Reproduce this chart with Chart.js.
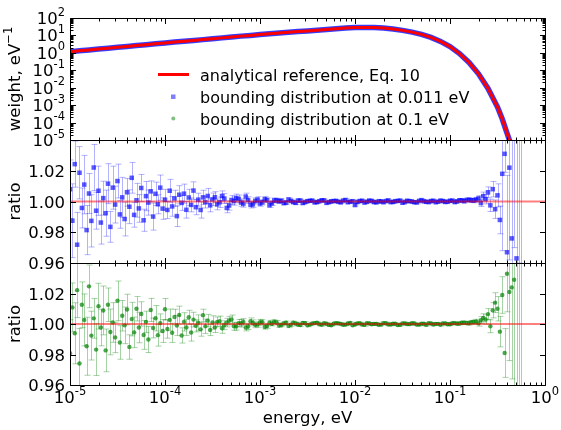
<!DOCTYPE html>
<html>
<head>
<meta charset="utf-8">
<script src="https://cdn.jsdelivr.net/npm/chart.js@4.4.0/dist/chart.umd.min.js"></script>
<style>
  html, body { margin: 0; padding: 0; background: #fff; }
  #wrap { position: relative; width: 561px; height: 430px; }
  #wrap canvas { position: absolute; left: 0; top: 0; }
</style>
</head>
<body>
<div id="wrap">
  <canvas id="weightChart" width="561" height="430"></canvas>
  <canvas id="blueChart" width="561" height="430"></canvas>
  <canvas id="greenChart" width="561" height="430"></canvas>
</div>
<script>
'use strict';
/* ------------------------------------------------------------------------------------------------DATA */
const refLogEnergy = [-5.0, -4.9, -4.8, -4.7, -4.6, -4.5, -4.4, -4.3, -4.2, -4.1,
  -4.0, -3.9, -3.8, -3.7, -3.6, -3.5, -3.4, -3.3, -3.2, -3.1,
  -3.0, -2.9, -2.8, -2.7, -2.6, -2.5, -2.4, -2.3, -2.2, -2.1,
  -2.0, -1.9, -1.8, -1.7, -1.6, -1.5, -1.4, -1.3, -1.2, -1.1,
  -1.0, -0.9, -0.8, -0.7, -0.6, -0.5, -0.45, -0.4, -0.35];
//log10 of energy (eV) for the analytical reference curve

const refWeight = [1.17, 1.32, 1.48, 1.66, 1.86, 2.09, 2.34, 2.63, 2.95, 3.31,
  3.72, 4.17, 4.68, 5.13, 5.75, 6.46, 7.24, 8.13, 9.12, 10.0,
  11.2, 12.6, 13.8, 15.1, 16.6, 18.2, 20.0, 21.9, 24.5, 26.3,
  28.2, 28.8, 28.2, 26.3, 23.4, 19.5, 15.5, 11.5, 7.76, 4.57,
  2.29, 0.912, 0.282, 0.0631, 0.00912, 7.8e-4, 1.6e-4, 2.5e-5, 4.0e-6];
//weight, eV^-1

const ratioLogEnergy = [-5.000, -4.975, -4.950, -4.925, -4.900, -4.875, -4.850, -4.825, -4.800, -4.775,
  -4.750, -4.725, -4.700, -4.675, -4.650, -4.625, -4.600, -4.575, -4.550, -4.525,
  -4.500, -4.475, -4.450, -4.425, -4.400, -4.375, -4.350, -4.325, -4.300, -4.275,
  -4.250, -4.225, -4.200, -4.175, -4.150, -4.125, -4.100, -4.075, -4.050, -4.025,
  -4.000, -3.975, -3.950, -3.925, -3.900, -3.875, -3.850, -3.825, -3.800, -3.775,
  -3.750, -3.725, -3.700, -3.675, -3.650, -3.625, -3.600, -3.575, -3.550, -3.525,
  -3.500,
  -3.475, -3.450, -3.425, -3.400, -3.375, -3.350, -3.325, -3.300, -3.275, -3.250,
  -3.225, -3.200, -3.175, -3.150, -3.125, -3.100, -3.075, -3.050, -3.025, -3.000,
  -2.975, -2.950, -2.925, -2.900, -2.875, -2.850, -2.825, -2.800, -2.775, -2.750,
  -2.725, -2.700, -2.675, -2.650, -2.625, -2.600, -2.575, -2.550, -2.525, -2.500,
  -2.475, -2.450, -2.425, -2.400, -2.375, -2.350, -2.325, -2.300, -2.275, -2.250,
  -2.225, -2.200, -2.175, -2.150, -2.125, -2.100, -2.075, -2.050, -2.025, -2.000,
  -1.975, -1.950, -1.925, -1.900, -1.875, -1.850, -1.825, -1.800, -1.775, -1.750,
  -1.725, -1.700, -1.675, -1.650, -1.625, -1.600, -1.575, -1.550, -1.525, -1.500,
  -1.475, -1.450, -1.425, -1.400, -1.375, -1.350, -1.325, -1.300, -1.275, -1.250,
  -1.225, -1.200, -1.175, -1.150, -1.125, -1.100, -1.075, -1.050, -1.025, -1.000,
  -0.975, -0.950, -0.925, -0.900, -0.875, -0.850, -0.825, -0.800, -0.775, -0.750,
  -0.725, -0.700, -0.675, -0.650, -0.625, -0.600, -0.575, -0.550, -0.525, -0.500,
  -0.475, -0.450, -0.425, -0.400, -0.375, -0.350, -0.325, -0.300, -0.275, -0.250];
//log10 of energy (eV) for the ratio points, shared by both bounding distributions

const blueRatio = [1.0080, 0.9875, 1.0243, 0.9719, 1.0187, 0.9958, 1.0110, 0.9814, 1.0052, 0.9874,
  1.0221, 0.9940, 1.0070, 0.9863, 1.0022, 0.9924, 1.0116, 0.9835, 1.0090, 0.9980,
  1.0133, 0.9916, 1.0027, 0.9886, 1.0060, 0.9966, 1.0154, 0.9913, 1.0008, 0.9955,
  1.0088, 0.9878, 1.0035, 0.9993, 1.0066, 0.9902, 1.0050, 0.9982, 1.0090, 0.9954,
  1.0011, 0.9945, 1.0070, 0.9968, 1.0020, 0.9905, 1.0044, 0.9991, 1.0051, 0.9946,
  1.0026, 0.9978, 1.0071, 0.9963, 1.0012, 0.9945, 1.0027, 0.9996, 1.0036, 0.9975,
  1.0014,
  1.0028, 0.9981, 0.9995, 1.0036, 1.0019, 0.9958, 0.9974, 1.0010, 1.0003, 1.0022,
  1.0017, 0.9993, 0.9986, 1.0032, 1.0009, 0.9979, 0.9982, 1.0004, 1.0012, 0.9987,
  0.9995, 1.0015, 1.0009, 0.9976, 0.9989, 1.0007, 1.0008, 1.0001, 1.0005, 0.9990,
  0.9993, 1.0013, 1.0004, 0.9996, 0.9991, 1.0006, 1.0006, 0.9990, 0.9997, 1.0002,
  1.0005, 1.0006, 0.9994, 0.9996, 1.0002, 1.0008, 1.0007, 0.9991, 0.9996, 1.0001,
  1.0003, 1.0004, 0.9998, 0.9994, 1.0006, 1.0010, 0.9995, 0.9999, 1.0002, 0.9977,
  0.9997, 1.0003, 1.0005, 0.9993, 0.9998, 1.0006, 1.0004, 0.9996, 0.9994, 1.0002,
  1.0001, 0.9995, 1.0003, 1.0007, 0.9996, 0.9997, 1.0002, 1.0004, 1.0006, 0.9992,
  0.9997, 1.0005, 1.0002, 1.0000, 0.9995, 0.9994, 1.0004, 1.0009, 1.0001, 0.9998,
  0.9996, 1.0003, 1.0005, 0.9995, 0.9999, 1.0006, 1.0003, 0.9997, 0.9998, 1.0005,
  1.0006, 0.9996, 1.0001, 1.0008, 1.0007, 1.0002, 1.0010, 1.0011, 1.0008, 1.0006,
  1.0012, 1.0020, 0.9990, 1.0035, 1.0015, 1.0060, 0.9975, 1.0080, 0.9950, 1.0040,
  0.9880, 1.0180, 1.0310, 0.9670, 1.0220, 0.9760, 1.0600, 0.9630, 1.0800, 0.9300];
//ratio to the reference, bounding distribution at 0.011 eV

const blueError = [0.019, 0.024, 0.015, 0.021, 0.017, 0.013, 0.019, 0.016, 0.013, 0.017,
  0.015, 0.012, 0.016, 0.014, 0.011, 0.015, 0.013, 0.010, 0.014, 0.012,
  0.011, 0.009, 0.013, 0.011, 0.009, 0.011, 0.010, 0.008, 0.011, 0.009,
  0.0088, 0.0072, 0.0095, 0.0082, 0.0068, 0.0088, 0.0076, 0.0062, 0.0082, 0.0070,
  0.0068, 0.0056, 0.0074, 0.0064, 0.0053, 0.0068, 0.0059, 0.0049, 0.0062, 0.0054,
  0.0053, 0.0045, 0.0057, 0.0049, 0.0042, 0.0053, 0.0046, 0.0038, 0.0049, 0.0042,
  0.0041,
  0.0036, 0.0035, 0.0034, 0.0033, 0.0032, 0.0031, 0.0030, 0.0029, 0.0027, 0.0026,
  0.0025, 0.0024, 0.0023, 0.0022, 0.0022, 0.0021, 0.0020, 0.0020, 0.0019, 0.0018,
  0.0017, 0.0018, 0.0015, 0.0014, 0.0015, 0.0016, 0.0013, 0.0013, 0.0012, 0.0012,
  0.0011, 0.0011, 0.00105, 0.00105, 0.0010, 0.0010, 0.00095, 0.00095, 0.0009, 0.0009,
  0.0008, 0.0007, 0.0008, 0.0009, 0.0007, 0.0008, 0.0008, 0.0007, 0.0008, 0.0009,
  0.0007, 0.0008, 0.0008, 0.0007, 0.0008, 0.0009, 0.0007, 0.0008, 0.0008, 0.0007,
  0.0008, 0.0009, 0.0007, 0.0008, 0.0008, 0.0007, 0.0008, 0.0009, 0.0007, 0.0008,
  0.0008, 0.0007, 0.0008, 0.0009, 0.0007, 0.0008, 0.0008, 0.0007, 0.0008, 0.0009,
  0.0007, 0.0008, 0.0008, 0.0007, 0.0008, 0.0009, 0.0007, 0.0008, 0.0008, 0.0007,
  0.0008, 0.0009, 0.0007, 0.0008, 0.0008, 0.0007, 0.0008, 0.0009, 0.0007, 0.0008,
  0.0008, 0.0009, 0.0009, 0.0010, 0.0010, 0.0011, 0.0011, 0.0012, 0.0013, 0.0014,
  0.0015, 0.0018, 0.0022, 0.0026, 0.0030, 0.0035, 0.0040, 0.0050, 0.0060, 0.0075,
  0.0090, 0.0500, 0.0120, 0.0500, 0.0600, 0.0700, 0.0900, 0.1000, 0.1200, 0.1500];
//half length of the blue error bars

const greenRatio = [0.9808, 1.0109, 0.9939, 1.0222, 0.9741, 1.0126, 1.0027, 0.9854, 1.0247, 0.9924,
  1.0037, 0.9832, 1.0117, 0.9977, 1.0089, 0.9827, 1.0126, 0.9948, 1.0010, 0.9912,
  1.0152, 0.9879, 1.0054, 0.9991, 1.0095, 0.9849, 1.0032, 0.9945, 1.0100, 0.9977,
  1.0066, 0.9928, 1.0014, 0.9898, 1.0092, 0.9974, 1.0038, 0.9927, 1.0006, 0.9954,
  1.0097, 0.9967, 1.0027, 0.9942, 1.0046, 0.9990, 1.0059, 0.9925, 1.0014, 0.9977,
  1.0044, 0.9944, 1.0029, 0.9988, 1.0008, 0.9965, 1.0057, 0.9985, 1.0022, 0.9961,
  1.0010,
  0.9978, 1.0014, 1.0019, 0.9972, 0.9992, 1.0009, 1.0022, 1.0030, 0.9985, 0.9984,
  1.0006, 1.0005, 1.0013, 0.9976, 0.9984, 1.0018, 1.0008, 0.9994, 0.9996, 1.0011,
  1.0012, 0.9981, 0.9987, 1.0008, 1.0002, 1.0015, 1.0010, 0.9991, 0.9994, 1.0004,
  1.0008, 0.9988, 0.9995, 1.0009, 1.0003, 0.9997, 0.9993, 1.0007, 1.0005, 0.9992,
  0.9996, 1.0003, 1.0006, 1.0009, 0.9998, 0.9995, 1.0005, 1.0002, 0.9994, 0.9992,
  1.0002, 1.0006, 1.0004, 1.0001, 0.9995, 0.9996, 1.0003, 1.0007, 0.9991, 0.9998,
  1.0004, 1.0005, 0.9997, 0.9994, 1.0006, 1.0003, 0.9998, 1.0001, 1.0001, 0.9995,
  0.9996, 1.0006, 1.0005, 0.9997, 0.9997, 1.0002, 1.0002, 0.9993, 0.9995, 1.0004,
  1.0004, 0.9999, 0.9999, 1.0005, 1.0003, 0.9996, 0.9996, 1.0002, 1.0002, 0.9994,
  1.0005, 1.0003, 0.9997, 1.0001, 1.0001, 0.9995, 1.0004, 1.0004, 0.9998, 0.9998,
  1.0005, 1.0006, 1.0002, 1.0003, 1.0008, 1.0009, 1.0006, 1.0005, 1.0011, 1.0013,
  1.0015, 1.0005, 1.0025, 1.0040, 1.0030, 1.0065, 0.9985, 1.0090, 1.0140, 1.0100,
  0.9950, 1.0190, 0.9810, 1.0330, 1.0210, 1.0240, 1.0290, 1.0500, 0.9450, 1.0700];
//ratio to the reference, bounding distribution at 0.1 eV

const greenError = [0.022, 0.016, 0.020, 0.018, 0.023, 0.015, 0.017, 0.019, 0.014, 0.016,
  0.013, 0.017, 0.015, 0.012, 0.016, 0.014, 0.011, 0.015, 0.013, 0.010,
  0.013, 0.011, 0.010, 0.012, 0.010, 0.008, 0.011, 0.010, 0.008, 0.010,
  0.0080, 0.0094, 0.0070, 0.0085, 0.0076, 0.0065, 0.0083, 0.0072, 0.0060, 0.0075,
  0.0070, 0.0060, 0.0071, 0.0063, 0.0051, 0.0066, 0.0058, 0.0050, 0.0060, 0.0052,
  0.0046, 0.0056, 0.0048, 0.0040, 0.0052, 0.0045, 0.0040, 0.0047, 0.0041, 0.0037,
  0.0044,
  0.0034, 0.0032, 0.0033, 0.0033, 0.0029, 0.0028, 0.0028, 0.0029, 0.0026, 0.0024,
  0.0023, 0.0025, 0.0022, 0.0021, 0.0020, 0.0022, 0.0019, 0.0018, 0.0017, 0.0019,
  0.0016, 0.0015, 0.0015, 0.0016, 0.0014, 0.0013, 0.0013, 0.0014, 0.0012, 0.0011,
  0.0011, 0.0012, 0.0010, 0.0010, 0.0010, 0.0011, 0.0009, 0.0009, 0.0009, 0.0010,
  0.0007, 0.0008, 0.0008, 0.0007, 0.0009, 0.0008, 0.0007, 0.0008, 0.0008, 0.0007,
  0.0009, 0.0008, 0.0007, 0.0008, 0.0008, 0.0007, 0.0009, 0.0008, 0.0007, 0.0008,
  0.0008, 0.0007, 0.0009, 0.0008, 0.0007, 0.0008, 0.0008, 0.0007, 0.0009, 0.0008,
  0.0007, 0.0008, 0.0008, 0.0007, 0.0009, 0.0008, 0.0007, 0.0008, 0.0008, 0.0007,
  0.0009, 0.0008, 0.0007, 0.0008, 0.0008, 0.0007, 0.0009, 0.0008, 0.0007, 0.0008,
  0.0008, 0.0007, 0.0009, 0.0008, 0.0007, 0.0008, 0.0008, 0.0007, 0.0009, 0.0008,
  0.0008, 0.0008, 0.0009, 0.0009, 0.0010, 0.0010, 0.0011, 0.0012, 0.0012, 0.0013,
  0.0016, 0.0019, 0.0023, 0.0027, 0.0031, 0.0036, 0.0042, 0.0050, 0.0065, 0.0080,
  0.0100, 0.0120, 0.0160, 0.0250, 0.0450, 0.0600, 0.0800, 0.1000, 0.1200, 0.1400];
//half length of the green error bars

const unityEnergy = [1e-5, 1];
const unityRatio = [1.0, 1.0];
//the reference line in the two ratio panels

const energyTickExponents = [-5, -4, -3, -2, -1, 0];
const weightTickExponents = [-5, -4, -3, -2, -1, 0, 1, 2];
const ratioTicks = [0.96, 0.98, 1.00, 1.02, 1.04];
const ratioTickLabels = ['0.96', '0.98', '1.00', '1.02', ''];
const legendLabels = ['analytical reference, Eq. 10', 'bounding distribution at 0.011 eV', 'bounding distribution at 0.1 eV'];



/* ------------------------------------------------------------------------------------------------LAYOUT */
const CANVAS_W = 561;
const CANVAS_H = 430;
const PLOT_LEFT = 70;
const PLOT_RIGHT = 545;
const PANELS = [[18, 140], [140, 263], [263, 385]];
//top and bottom pixel of the three stacked panels

const FONT = '"DejaVu Sans", "Liberation Sans", sans-serif';
const TICK_FONT = '16.5px ' + FONT;
const SUP_FONT = '11.5px ' + FONT;
const LEGEND_FONT = '16px ' + FONT;
const MAJOR = 5.5;
const MINOR = 3;
const CAP = 3;



/* ------------------------------------------------------------------------------------------------DRAW HELPERS */
function drawPower(ctx, exp, x, baseY, align){
  ctx.font = TICK_FONT;
  const baseW = ctx.measureText('10').width;
  ctx.font = SUP_FONT;
  const sup = String(exp);
  const supW = ctx.measureText(sup).width;
  const left = align === 'right' ? x - baseW - supW : x - (baseW + supW) / 2;
  ctx.textAlign = 'left';
  ctx.textBaseline = 'alphabetic';
  ctx.font = TICK_FONT;
  ctx.fillText('10', left, baseY);
  ctx.font = SUP_FONT;
  ctx.fillText(sup, left + baseW, baseY - 8.5);
}
//draws 10 with a raised exponent

function drawErrorBars(chart){
  const ctx = chart.ctx;
  const area = chart.chartArea;
  const xs = chart.scales.x;
  const ys = chart.scales.y;
  ctx.save();
  ctx.beginPath();
  ctx.rect(area.left, area.top, area.right - area.left, area.bottom - area.top);
  ctx.clip();
  ctx.lineWidth = 1;
  for (let ds of chart.data.datasets){
    if (!ds.errorColor) continue;
    ctx.strokeStyle = ds.errorColor;
    for (let p of ds.data){
      const px = Math.round(xs.getPixelForValue(p.x)) + 0.5;
      const top = ys.getPixelForValue(p.y + p.err);
      const bot = ys.getPixelForValue(p.y - p.err);
      ctx.beginPath();
      ctx.moveTo(px, top);
      ctx.lineTo(px, bot);
      ctx.moveTo(px - CAP, top);
      ctx.lineTo(px + CAP, top);
      ctx.moveTo(px - CAP, bot);
      ctx.lineTo(px + CAP, bot);
      ctx.stroke();
    }
  }
  ctx.restore();
}
//vertical error bars with caps, clipped to the panel

function drawFrame(chart, cfg){
  const ctx = chart.ctx;
  const a = chart.chartArea;
  const xs = chart.scales.x;
  const ys = chart.scales.y;
  const L = a.left + 0.5, R = a.right + 0.5, T = a.top + 0.5, B = a.bottom + 0.5;
  ctx.save();
  ctx.strokeStyle = '#000';
  ctx.lineWidth = 1;
  ctx.beginPath();
  ctx.rect(L, T, R - L, B - T);

  for (let e of energyTickExponents){
    const marks = [[10 ** e, MAJOR]];
    if (e < 0) for (let m = 2; m < 10; m++) marks.push([m * 10 ** e, MINOR]);
    for (let [v, len] of marks){
      const px = Math.round(xs.getPixelForValue(v)) + 0.5;
      ctx.moveTo(px, T); ctx.lineTo(px, T + len);
      ctx.moveTo(px, B); ctx.lineTo(px, B - len);
    }
  }
  //x ticks on top and bottom edges, pointing inward

  const yMarks = [];
  if (cfg.kind === 'log'){
    for (let e of weightTickExponents){
      yMarks.push([10 ** e, MAJOR]);
      if (e < 2) for (let m = 2; m < 10; m++) yMarks.push([m * 10 ** e, MINOR]);
    }
  } else {
    for (let v of ratioTicks) yMarks.push([v, MAJOR]);
  }
  for (let [v, len] of yMarks){
    const py = Math.round(ys.getPixelForValue(v)) + 0.5;
    ctx.moveTo(L, py); ctx.lineTo(L + len, py);
    ctx.moveTo(R, py); ctx.lineTo(R - len, py);
  }
  ctx.stroke();
  //y ticks on left and right edges

  ctx.fillStyle = '#000';
  if (cfg.kind === 'log'){
    for (let e of weightTickExponents){
      drawPower(ctx, e, 65, ys.getPixelForValue(10 ** e) + 6, 'right');
    }
  } else {
    ctx.font = TICK_FONT;
    ctx.textAlign = 'right';
    ctx.textBaseline = 'alphabetic';
    ratioTicks.forEach((v, i) => ctx.fillText(ratioTickLabels[i], 65, ys.getPixelForValue(v) + 6));
  }
  //y tick labels

  if (cfg.xLabels){
    for (let e of energyTickExponents){
      drawPower(ctx, e, xs.getPixelForValue(10 ** e), 403, 'center');
    }
    ctx.font = TICK_FONT;
    ctx.textAlign = 'center';
    ctx.fillText('energy, eV', (a.left + a.right) / 2, 423);
  }
  //x tick labels and axis title on the bottom panel only

  const midY = (a.top + a.bottom) / 2;
  ctx.translate(20, midY);
  ctx.rotate(-Math.PI / 2);
  ctx.textAlign = 'left';
  ctx.font = TICK_FONT;
  if (cfg.kind === 'log'){
    const main = 'weight, eV';
    const w1 = ctx.measureText(main).width;
    ctx.font = SUP_FONT;
    const w2 = ctx.measureText('\u22121').width;
    ctx.font = TICK_FONT;
    ctx.fillText(main, -(w1 + w2) / 2, 0);
    ctx.font = SUP_FONT;
    ctx.fillText('\u22121', -(w1 + w2) / 2 + w1, -8.5);
  } else {
    ctx.textAlign = 'center';
    ctx.fillText('ratio', 0, 0);
  }
  ctx.restore();
  //rotated y axis title

  if (cfg.legend){
    ctx.save();
    ctx.strokeStyle = '#ff0000';
    ctx.lineWidth = 3;
    ctx.beginPath();
    ctx.moveTo(158, 74.5);
    ctx.lineTo(189, 74.5);
    ctx.stroke();
    ctx.fillStyle = 'rgba(0,0,255,0.5)';
    ctx.fillRect(171, 94.5, 4.5, 4.5);
    ctx.fillStyle = 'rgba(0,128,0,0.5)';
    ctx.beginPath();
    ctx.arc(173.3, 118.5, 2, 0, Math.PI * 2);
    ctx.fill();
    ctx.fillStyle = '#000';
    ctx.font = LEGEND_FONT;
    ctx.textAlign = 'left';
    ctx.textBaseline = 'alphabetic';
    legendLabels.forEach((t, i) => ctx.fillText(t, 200, 80.5 + 22 * i));
    ctx.restore();
  }
  //legend without a frame inside the top panel
}

const framePlugin = {
  id: 'frame',
  beforeDatasetsDraw(chart){
    drawErrorBars(chart);
  },
  afterDraw(chart){
    drawFrame(chart, chart.options.plugins.frame);
  }
};



/* ------------------------------------------------------------------------------------------------CHARTS */
function panelOptions(panel, yScale, frame){
  return {
    responsive: false,
    animation: false,
    events: [],
    layout: {padding: {left: PLOT_LEFT, right: CANVAS_W - PLOT_RIGHT, top: panel[0], bottom: CANVAS_H - panel[1]}},
    plugins: {legend: {display: false}, tooltip: {enabled: false}, frame: frame},
    scales: {
      x: {type: 'logarithmic', min: 1e-5, max: 1, display: false},
      y: Object.assign({display: false}, yScale)
    }
  };
}

function ratioPoints(values, errors){
  return ratioLogEnergy.map((le, i) => ({x: 10 ** le, y: values[i], err: errors[i]}));
}

const refPoints = refLogEnergy.map((le, i) => ({x: 10 ** le, y: refWeight[i]}));
const unityPoints = unityEnergy.map((e, i) => ({x: e, y: unityRatio[i]}));

new Chart(document.getElementById('weightChart'), {
  type: 'scatter',
  data: {
    datasets: [{
      label: legendLabels[0],
      data: refPoints,
      showLine: true,
      borderColor: '#ff0000',
      borderWidth: 3,
      pointRadius: 0,
      clip: 0,
      order: 0
    }, {
      label: legendLabels[1],
      data: refPoints,
      showLine: true,
      borderColor: 'rgba(40,40,255,0.9)',
      borderWidth: 5.5,
      pointRadius: 0,
      clip: 0,
      order: 1
    }, {
      label: legendLabels[2],
      data: refPoints,
      showLine: true,
      borderColor: 'rgba(0,128,0,0.5)',
      borderWidth: 4,
      pointRadius: 0,
      clip: 0,
      order: 2
    }]
  },
  options: panelOptions(PANELS[0], {type: 'logarithmic', min: 1e-5, max: 1e2}, {kind: 'log', xLabels: false, legend: true}),
  plugins: [framePlugin]
});

new Chart(document.getElementById('blueChart'), {
  type: 'scatter',
  data: {
    datasets: [{
      data: unityPoints,
      showLine: true,
      borderColor: 'rgba(255,0,0,0.5)',
      borderWidth: 2,
      pointRadius: 0,
      clip: 0,
      order: 0
    }, {
      label: legendLabels[1],
      data: ratioPoints(blueRatio, blueError),
      pointStyle: 'rect',
      pointRadius: 3.2,
      pointBackgroundColor: 'rgba(0,0,255,0.65)',
      pointBorderWidth: 0,
      errorColor: 'rgba(0,0,255,0.3)',
      clip: 0,
      order: 1
    }]
  },
  options: panelOptions(PANELS[1], {type: 'linear', min: 0.96, max: 1.04}, {kind: 'ratio', xLabels: false, legend: false}),
  plugins: [framePlugin]
});

new Chart(document.getElementById('greenChart'), {
  type: 'scatter',
  data: {
    datasets: [{
      data: unityPoints,
      showLine: true,
      borderColor: 'rgba(255,0,0,0.5)',
      borderWidth: 2,
      pointRadius: 0,
      clip: 0,
      order: 0
    }, {
      label: legendLabels[2],
      data: ratioPoints(greenRatio, greenError),
      pointRadius: 2.2,
      pointBackgroundColor: 'rgba(0,128,0,0.7)',
      pointBorderWidth: 0,
      errorColor: 'rgba(0,128,0,0.35)',
      clip: 0,
      order: 1
    }]
  },
  options: panelOptions(PANELS[2], {type: 'linear', min: 0.96, max: 1.04}, {kind: 'ratio', xLabels: true, legend: false}),
  plugins: [framePlugin]
});
</script>
</body>
</html>
